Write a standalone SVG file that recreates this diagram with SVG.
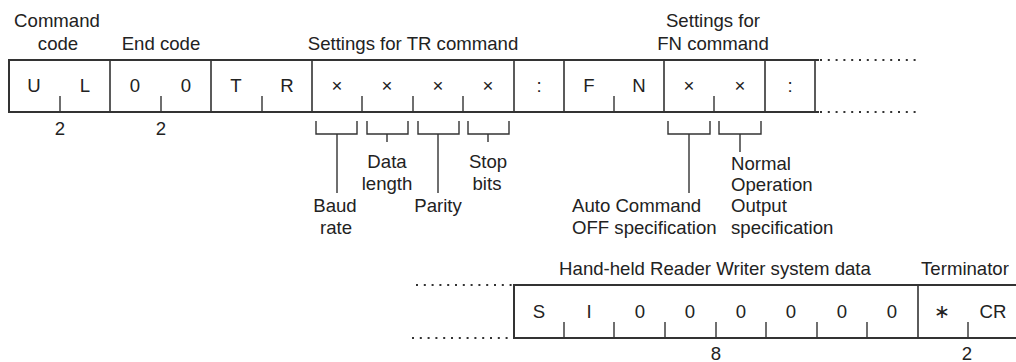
<svg xmlns="http://www.w3.org/2000/svg" width="1016" height="362" viewBox="0 0 1016 362">
<style>
text{font-family:"Liberation Sans",Arial,sans-serif;font-size:18.6px;fill:#222;}
.m{text-anchor:middle;}
.box{fill:none;stroke:#333;stroke-width:2;}
.div{stroke:#333;stroke-width:1.6;fill:none;}
.tick{stroke:#333;stroke-width:1.4;fill:none;}
.dot{stroke:#333;stroke-width:2;stroke-dasharray:2 5.8;fill:none;}
.br{stroke:#333;stroke-width:1.4;fill:none;}
</style>
<rect width="1016" height="362" fill="#fff"/>

<g id="top-frame">
  <path class="box" d="M819,60 H9 V112 H819"/>
  <path class="div" d="M110,60V112M211,60V112M312,60V112M514,60V112M564,60V112M664,60V112M765,60V112M815,60V112"/>
  <path class="tick" d="M60,96V112M161,96V112M262,96V112M362,96V112M413,96V112M463,96V112M614,96V112M714,96V112"/>
  <path class="dot" d="M820,60H918M820,112H918"/>
</g>

<g id="top-cells">
  <text class="m" x="34" y="92">U</text>
  <text class="m" x="85" y="92">L</text>
  <text class="m" x="135" y="92">0</text>
  <text class="m" x="186" y="92">0</text>
  <text class="m" x="236" y="92">T</text>
  <text class="m" x="287" y="92">R</text>
  <text class="m" x="337" y="92">×</text>
  <text class="m" x="387" y="92">×</text>
  <text class="m" x="438" y="92">×</text>
  <text class="m" x="488" y="92">×</text>
  <text class="m" x="539" y="92">:</text>
  <text class="m" x="589" y="92">F</text>
  <text class="m" x="639" y="92">N</text>
  <text class="m" x="689" y="92">×</text>
  <text class="m" x="740" y="92">×</text>
  <text class="m" x="790" y="92">:</text>
</g>

<g id="command-code">
  <text class="m" x="57" y="27">Command</text>
  <text class="m" x="58" y="50">code</text>
  <text class="m" x="60" y="135">2</text>
</g>
<g id="end-code">
  <text class="m" x="161" y="50">End code</text>
  <text class="m" x="161" y="135">2</text>
</g>
<g id="tr-settings">
  <text class="m" x="413" y="50">Settings for TR command</text>
</g>
<g id="fn-settings">
  <text class="m" x="713" y="27">Settings for</text>
  <text class="m" x="713" y="50">FN command</text>
</g>

<g id="connectors">
  <path class="br" d="M316,121V134H357V121M337,134V193"/>
  <path class="br" d="M367,121V134H408V121M387,134V142"/>
  <path class="br" d="M418,121V134H459V121M438,134V193"/>
  <path class="br" d="M468,121V134H509V121M488,134V142"/>
  <path class="br" d="M668,121V134H710V121M689,134V193"/>
  <path class="br" d="M719,121V134H761V121M740,134V152"/>
</g>

<g id="baud-rate">
  <text class="m" x="335" y="212">Baud</text>
  <text class="m" x="336" y="234">rate</text>
</g>
<g id="data-length">
  <text class="m" x="387" y="168">Data</text>
  <text class="m" x="387" y="190">length</text>
</g>
<g id="parity">
  <text class="m" x="438" y="212">Parity</text>
</g>
<g id="stop-bits">
  <text class="m" x="488" y="168">Stop</text>
  <text class="m" x="487" y="190">bits</text>
</g>
<g id="auto-command">
  <text x="572" y="212">Auto Command</text>
  <text x="572" y="234">OFF specification</text>
</g>
<g id="normal-operation">
  <text x="731" y="170">Normal</text>
  <text x="731" y="191">Operation</text>
  <text x="731" y="212">Output</text>
  <text x="731" y="234">specification</text>
</g>

<g id="bottom-frame">
  <path class="box" d="M1016,285 H514 V338 H1016"/>
  <path class="div" d="M918,285V338"/>
  <path class="tick" d="M564,322V338M614,322V338M665,322V338M716,322V338M766,322V338M817,322V338M867,322V338M968,322V338"/>
  <path class="dot" d="M416,285H512M412,338H512"/>
</g>

<g id="bottom-cells">
  <text class="m" x="539" y="318">S</text>
  <text class="m" x="589" y="318">I</text>
  <text class="m" x="640" y="318">0</text>
  <text class="m" x="690" y="318">0</text>
  <text class="m" x="741" y="318">0</text>
  <text class="m" x="791" y="318">0</text>
  <text class="m" x="842" y="318">0</text>
  <text class="m" x="892" y="318">0</text>
  <text class="m" x="942" y="318">∗</text>
  <text class="m" x="993" y="318">CR</text>
</g>

<g id="system-data">
  <text class="m" x="715" y="275">Hand-held Reader Writer system data</text>
  <text class="m" x="716" y="360">8</text>
</g>
<g id="terminator">
  <text class="m" x="965" y="275">Terminator</text>
  <text class="m" x="967" y="360">2</text>
</g>
</svg>
